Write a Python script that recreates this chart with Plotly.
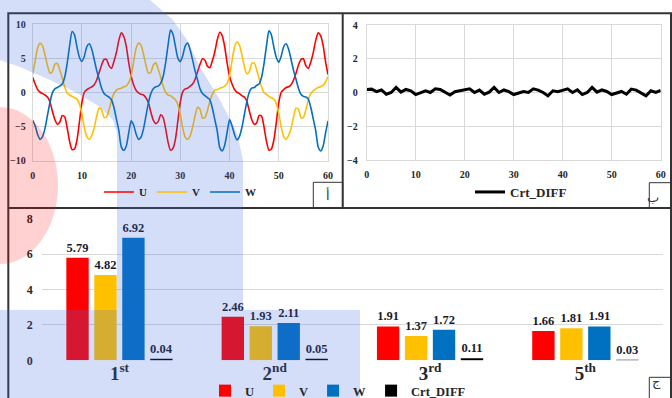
import plotly.graph_objects as go

# ---------------- data ----------------
t_ms = [i * 0.5 for i in range(121)]

U = [2.2, 1.2, 0.4, 0.0, -0.2, -0.4, -0.7, -1.4, -2.8, -4.0, -4.7, -4.4, -3.4, -3.6, -5.2, -7.2, -8.4, -8.3, -7.0, -4.3,
     -1.5, 0.0, 0.4, 0.6, 0.8, 1.1, 1.8, 2.9, 4.0, 4.8, 4.8, 3.9, 3.5, 4.5, 5.8, 7.6, 8.7, 8.2, 6.8, 4.4,
     2.4, 1.1, 0.3, -0.1, -0.3, -0.4, -0.8, -1.5, -2.9, -4.1, -4.6, -4.3, -3.3, -3.7, -5.3, -7.3, -8.5, -8.2, -6.9, -4.2,
     -1.4, 0.1, 0.5, 0.6, 0.9, 1.2, 1.9, 3.0, 4.1, 4.9, 4.7, 3.8, 3.6, 4.6, 5.9, 7.7, 8.8, 8.3, 6.7, 4.3,
     2.3, 1.2, 0.4, 0.0, -0.2, -0.5, -0.7, -1.3, -2.7, -4.0, -4.7, -4.5, -3.4, -3.5, -5.1, -7.2, -8.5, -8.3, -7.0, -4.4,
     -1.5, 0.0, 0.4, 0.7, 0.8, 1.1, 1.8, 2.8, 4.0, 4.8, 4.9, 3.9, 3.5, 4.4, 5.8, 7.6, 8.7, 8.3, 6.9, 4.5,
     2.6]

V = [2.6, 4.6, 6.5, 7.2, 6.8, 5.5, 3.9, 2.8, 3.0, 4.1, 4.2, 3.3, 2.1, 0.8, -0.1, -0.4, -0.6, -0.8, -1.0, -1.7,
     -3.2, -5.2, -6.5, -6.9, -6.3, -5.2, -3.5, -2.3, -2.6, -3.7, -3.6, -2.6, -1.2, -0.2, 0.3, 0.5, 0.6, 0.8, 0.9, 1.4,
     2.4, 4.4, 6.4, 7.2, 6.9, 5.6, 4.0, 2.8, 2.9, 4.0, 4.3, 3.4, 2.2, 0.9, 0.0, -0.4, -0.5, -0.8, -1.1, -1.8,
     -3.3, -5.3, -6.6, -6.9, -6.4, -5.1, -3.4, -2.2, -2.5, -3.8, -3.7, -2.7, -1.3, -0.3, 0.3, 0.4, 0.6, 0.7, 0.9, 1.3,
     2.5, 4.6, 6.6, 7.4, 6.9, 5.5, 3.8, 2.7, 3.0, 4.2, 4.3, 3.3, 2.0, 0.8, -0.1, -0.3, -0.6, -0.8, -1.0, -1.7,
     -3.1, -5.1, -6.5, -6.9, -6.3, -5.3, -3.6, -2.3, -2.5, -3.7, -3.7, -2.6, -1.1, -0.2, 0.2, 0.5, 0.7, 0.8, 1.0, 1.5,
     2.3]

W = [-4.1, -4.9, -6.2, -6.9, -6.5, -5.3, -3.4, -1.5, -0.1, 0.5, 0.7, 0.9, 1.2, 2.2, 4.2, 6.8, 8.9, 8.4, 6.6, 5.1,
     4.5, 5.3, 6.7, 7.1, 6.3, 4.8, 3.2, 1.9, 0.6, -0.2, -0.5, -0.7, -1.1, -2.2, -3.9, -5.6, -8.0, -8.5, -7.9, -6.0,
     -4.2, -4.8, -6.1, -6.9, -6.6, -5.4, -3.5, -1.6, -0.2, 0.5, 0.8, 0.9, 1.3, 2.3, 4.3, 6.9, 9.1, 8.5, 6.7, 5.0,
     4.5, 5.4, 6.8, 7.2, 6.2, 4.7, 3.1, 1.8, 0.5, -0.2, -0.5, -0.8, -1.1, -2.3, -4.0, -5.7, -8.1, -8.6, -7.8, -5.9,
     -4.0, -4.9, -6.2, -7.0, -6.5, -5.2, -3.3, -1.4, 0.0, 0.6, 0.7, 1.0, 1.2, 2.2, 4.2, 6.8, 9.0, 8.4, 6.6, 5.1,
     4.4, 5.3, 6.7, 7.1, 6.3, 4.8, 3.2, 1.9, 0.6, -0.3, -0.6, -0.7, -1.0, -2.2, -3.9, -5.6, -8.0, -8.6, -7.9, -6.0,
     -4.2]

t_diff = list(range(61))
crt_diff = [0.18, 0.2, 0.05, 0.15, -0.1, 0.0, 0.3, 0.02, 0.18, 0.1,
            -0.12, -0.02, 0.1, 0.0, 0.22, 0.18, 0.02, -0.15, 0.05, 0.1,
            0.18, 0.22, 0.0, 0.14, -0.1, 0.02, 0.3, 0.0, 0.15, 0.05,
            -0.12, -0.03, 0.06, 0.0, 0.22, 0.14, 0.0, -0.2, 0.1, 0.05,
            0.14, 0.22, 0.0, 0.16, -0.12, 0.0, 0.3, 0.02, 0.15, 0.06,
            -0.12, -0.05, 0.06, -0.1, 0.2, 0.14, -0.02, -0.2, 0.1, 0.0,
            0.12]

harmonics = ["1<sup>st</sup>", "2<sup>nd</sup>", "3<sup>rd</sup>", "5<sup>th</sup>"]
bar_U = [5.79, 2.46, 1.91, 1.66]
bar_V = [4.82, 1.93, 1.37, 1.81]
bar_W = [6.92, 2.11, 1.72, 1.91]
bar_D = [0.04, 0.05, 0.11, 0.03]

# ---------------- helpers ----------------
FW, FH = 672, 398
def px(x):
    return x / FW
def py(y):
    return 1 - y / FH

SERIF = "Liberation Serif"
TXT = "#262626"
GRID = "#d9d9d9"
C_U, C_V, C_W, C_D = "#FF0000", "#FFC000", "#0070C0", "#000000"

fig = go.Figure()

# top-left waveforms
for name, ys, c in [("U", U, C_U), ("V", V, C_V), ("W", W, C_W)]:
    fig.add_trace(go.Scatter(x=t_ms, y=ys, mode="lines", name=name,
                             line=dict(color=c, width=1.6, shape="spline", smoothing=0.6),
                             xaxis="x", yaxis="y", legend="legend"))

# top-right difference
fig.add_trace(go.Scatter(x=t_diff, y=crt_diff, mode="lines", name="Crt_DIFF",
                         line=dict(color=C_D, width=3),
                         xaxis="x2", yaxis="y2", legend="legend2"))

# bottom bars
for name, vals, c in [("U", bar_U, C_U), ("V", bar_V, C_V), ("W", bar_W, C_W), ("Crt_DIFF", bar_D, C_D)]:
    fig.add_trace(go.Bar(x=harmonics, y=vals, name=name, marker=dict(color=c, line=dict(width=0)),
                         text=[f"{v:.2f}" for v in vals], textposition="outside",
                         constraintext="none", cliponaxis=False,
                         textfont=dict(family=SERIF, size=12.5, color="#1a1a2a", weight="bold"),
                         xaxis="x3", yaxis="y3", legend="legend3"))

tick_font = dict(family=SERIF, size=10, color=TXT, weight="bold")

common_grid = dict(showgrid=True, gridcolor=GRID, gridwidth=1, zeroline=False,
                   showline=True, linecolor=GRID, linewidth=1, mirror=True,
                   ticks="", tickfont=tick_font)

leg_common = dict(orientation="h", xref="container", yref="container", xanchor="center",
                  yanchor="middle", bgcolor="rgba(0,0,0,0)")

fig.update_layout(
    width=FW, height=FH, margin=dict(l=0, r=0, t=0, b=0, pad=0, autoexpand=False),
    paper_bgcolor="white", plot_bgcolor="white",
    showlegend=True,
    barmode="group", bargap=0.28, bargroupgap=0.2,
    xaxis=dict(domain=[px(32.7), px(328)], range=[0, 60], tickvals=[0, 10, 20, 30, 40, 50, 60],
               ticklabelstandoff=5, anchor="y", **common_grid),
    yaxis=dict(domain=[py(160.5), py(24)], range=[-10, 10], tickvals=[-10, -5, 0, 5, 10],
               ticklabelstandoff=4, anchor="x", **common_grid),
    xaxis2=dict(domain=[px(366.7), px(660.7)], range=[0, 60], tickvals=[0, 10, 20, 30, 40, 50, 60],
                ticklabelstandoff=5, anchor="y2", **common_grid),
    yaxis2=dict(domain=[py(160), py(25)], range=[-4, 4], tickvals=[-4, -2, 0, 2, 4],
                ticklabelstandoff=6, anchor="x2", **common_grid),
    xaxis3=dict(domain=[px(41.8), px(663)], type="category", showgrid=False, zeroline=False,
                showline=False, ticks="", anchor="y3", ticklabelstandoff=0,
                tickfont=dict(family=SERIF, size=19, color=TXT, weight="bold")),
    yaxis3=dict(domain=[py(360.3), py(218.7)], range=[0, 8], tickvals=[0, 2, 4, 6, 8],
                showgrid=True, gridcolor=GRID, zeroline=False, showline=False, ticks="",
                ticklabelstandoff=8, anchor="x3",
                tickfont=dict(family=SERIF, size=12, color=TXT, weight="bold")),
    legend=dict(x=px(180), y=py(192), font=dict(family=SERIF, size=11, color=TXT, weight="bold"),
                itemwidth=30, **leg_common),
    legend2=dict(x=px(521), y=py(192), font=dict(family=SERIF, size=13, color=TXT, weight="bold"),
                 **leg_common),
    legend3=dict(x=px(338), y=py(391), font=dict(family=SERIF, size=12.5, color=TXT, weight="bold"),
                 **leg_common),
)

FR = "#333333"
shapes = [
    # outer frame and dividers
    dict(type="rect", xref="paper", yref="paper", x0=px(8.3), x1=px(671), y0=py(399), y1=py(13.3),
         line=dict(color=FR, width=2), fillcolor="rgba(0,0,0,0)"),
    dict(type="line", xref="paper", yref="paper", x0=px(8.3), x1=px(671), y0=py(208), y1=py(208),
         line=dict(color=FR, width=2)),
    dict(type="line", xref="paper", yref="paper", x0=px(342.7), x1=px(342.7), y0=py(208), y1=py(13.3),
         line=dict(color=FR, width=2)),
    # label boxes
    dict(type="rect", xref="paper", yref="paper", x0=px(313.3), x1=px(342.7), y0=py(208), y1=py(182.3),
         line=dict(color=FR, width=1)),
    dict(type="rect", xref="paper", yref="paper", x0=px(649.3), x1=px(671), y0=py(208), y1=py(182.7),
         line=dict(color=FR, width=1)),
    dict(type="rect", xref="paper", yref="paper", x0=px(649.3), x1=px(671), y0=py(399), y1=py(377.3),
         line=dict(color=FR, width=1)),
]

# translucent overlays seen on the picture
blue_pts = [(0, 0), (150, 0), (173, 20), (187, 40), (200, 67), (220, 100), (237, 133), (243, 160),
            (243, 310), (360, 310), (360, 398), (0, 398), (0, 310), (117, 310), (117, 133), (113, 120),
            (100, 107), (77, 93), (50, 80), (20, 67), (0, 60)]
path = "M " + " L ".join(f"{px(a):.5f},{py(b):.5f}" for a, b in blue_pts) + " Z"
shapes.append(dict(type="path", xref="paper", yref="paper", path=path, layer="above",
                   fillcolor="rgba(65,105,225,0.22)", line=dict(width=0)))
shapes.append(dict(type="circle", xref="paper", yref="paper", x0=px(-58), x1=px(58), y0=py(264), y1=py(107),
                   layer="above", fillcolor="rgba(255,0,0,0.18)", line=dict(width=0)))
fig.update_layout(shapes=shapes)

ann_font = dict(family="DejaVu Sans", size=13, color=FR)
fig.update_layout(annotations=[
    dict(text="أ", x=px(328), y=py(195), xref="paper", yref="paper", showarrow=False, font=ann_font),
    dict(text="ب", x=px(661), y=py(197), xref="paper", yref="paper", showarrow=False, font=ann_font),
    dict(text="ج", x=px(663), y=py(392), xref="paper", yref="paper", showarrow=False, font=ann_font),
])

fig.write_html("out.html", config={"displayModeBar": False},
               post_script="document.body.style.margin='0px';document.body.style.overflow='hidden';")
